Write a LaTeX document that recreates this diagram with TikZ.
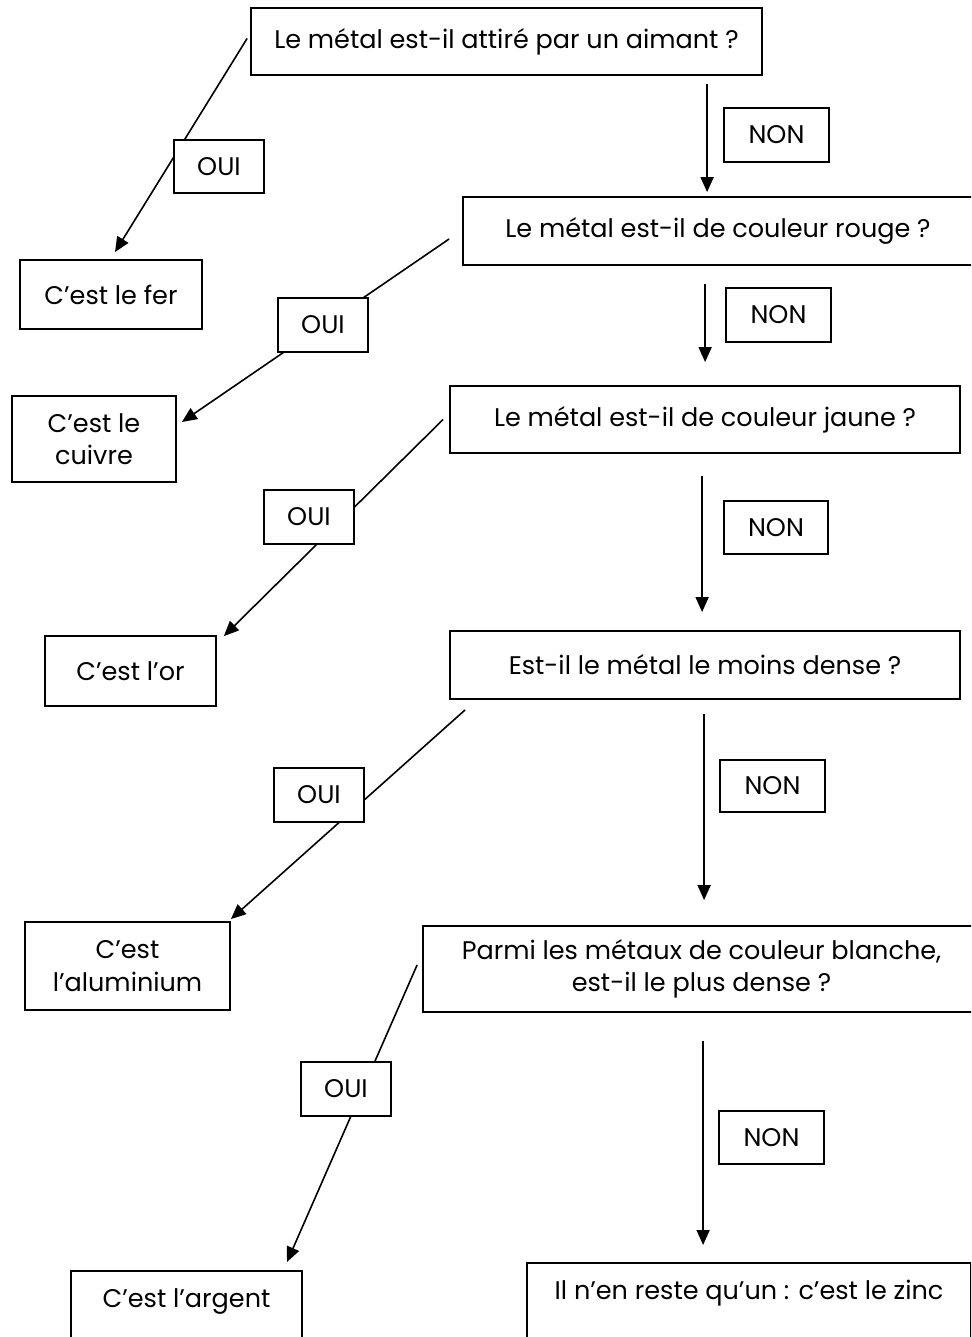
\documentclass[tikz,border=0pt]{standalone}
\usepackage{fontspec}
\setmainfont{Poppins}
\usetikzlibrary{arrows.meta,calc}
\tikzset{
  box/.style={draw=black, line width=1.8pt, fill=white, inner sep=0pt, align=center,
    font=\fontsize{25.5}{32.5}\selectfont},
  lab/.style={box},
  conn/.style={line width=1.6pt},
  arr/.style={conn, -{Triangle[length=15pt,width=13pt]}},
}
\begin{document}
\begin{tikzpicture}[x=1pt,y=-1pt]
\useasboundingbox (0,0) rectangle (971,1337);
\clip (0,0) rectangle (971,1337);

% question boxes
\node[box, minimum width=511, minimum height=67] (q1) at (506.5,41.5) {Le métal est-il attiré par un aimant ?};
\node[box, minimum width=510, minimum height=68] (q2) at (718,231) {Le métal est-il de couleur rouge ?};
\node[box, minimum width=510, minimum height=67] (q3) at (705,419.5) {Le métal est-il de couleur jaune ?};
\node[box, minimum width=510, minimum height=68] (q4) at (705,665) {Est-il le métal le moins dense ?};
\node[box, minimum width=557, minimum height=86] (q5) at (701.5,969) {Parmi les métaux de couleur blanche,\\est-il le plus dense ?};

% result boxes
\node[box, minimum width=182, minimum height=69] (fer) at (111,294.5) {C’est le fer};
\node[box, minimum width=164, minimum height=86] (cuivre) at (94,439) {C’est le\\cuivre};
\node[box, minimum width=171, minimum height=70] (or) at (130.5,671) {C’est l’or};
\node[box, minimum width=205, minimum height=88] (alu) at (127.5,966) {C’est\\l’aluminium};
\node[box, minimum width=231, text height=37pt, text depth=60pt, anchor=north] (argent) at (186.5,1270) {C’est l’argent};
\node[box, minimum width=444, text height=37pt, text depth=60pt, anchor=north] (zinc) at (749,1262) {Il n’en reste qu’un : c’est le zinc};

% NON arrows
\draw[arr] ($(q1.south west)+(457,8)$) -- ($(q2.north west)+(245,-4)$);
\draw[arr] ($(q2.south west)+(243,18)$) -- ($(q3.north west)+(256,-23)$);
\draw[arr] ($(q3.south west)+(253,22)$) -- ($(q4.north west)+(253,-18)$);
\draw[arr] ($(q4.south west)+(255,14)$) -- ($(q5.north west)+(282,-25)$);
\draw[arr] ($(q5.south west)+(281,28)$) -- ($(zinc.north west)+(177,-17)$);

% OUI arrows
\draw[arr] ($(q1.west)+(-3,-3)$) -- ($(fer.north)+(4,-7)$);
\draw[arr] ($(q2.west)+(-13,8)$) -- ($(cuivre.east)+(5,-17)$);
\draw[arr] ($(q3.west)+(-6,0)$) -- ($(or.north east)+(7,1)$);
\draw[arr] ($(q4.south west)+(16,10)$) -- ($(alu.north east)+(0,-2)$);
\draw[arr] ($(q5.west)+(-5,-4)$) -- ($(argent.north)+(100.5,-8)$);

% labels
\node[lab, minimum width=105, minimum height=54] (non1) at (776.5,135) {NON};
\node[lab, minimum width=105, minimum height=54] (non2) at (778.5,315) {NON};
\node[lab, minimum width=104, minimum height=53] (non3) at (776,527.5) {NON};
\node[lab, minimum width=105, minimum height=52] (non4) at (772.5,786) {NON};
\node[lab, minimum width=105, minimum height=53] (non5) at (771.5,1137.5) {NON};
\node[lab, minimum width=90, minimum height=53] (oui1) at (219,166.5) {OUI};
\node[lab, minimum width=90, minimum height=54] (oui2) at (323,325) {OUI};
\node[lab, minimum width=90, minimum height=54] (oui3) at (309,517) {OUI};
\node[lab, minimum width=90, minimum height=54] (oui4) at (319,795) {OUI};
\node[lab, minimum width=90, minimum height=54] (oui5) at (346,1089) {OUI};
\end{tikzpicture}
\end{document}
